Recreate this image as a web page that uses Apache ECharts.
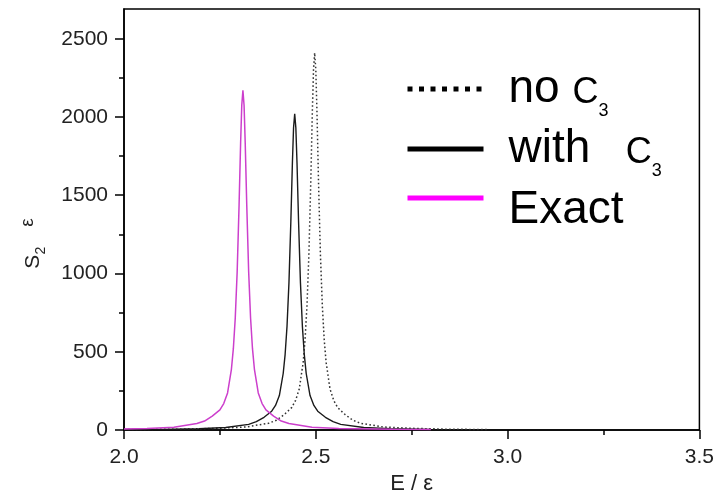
<!DOCTYPE html>
<html><head><meta charset="utf-8">
<script src="https://cdn.jsdelivr.net/npm/echarts@6/dist/echarts.min.js"></script>
<style>html,body{margin:0;padding:0;background:#fff}#c{width:717px;height:500px}</style>
</head><body><div id="c"></div>
<script>
// ---- data ----
const exactE = [2.00, 2.06, 2.13, 2.19, 2.21, 2.23, 2.25, 2.26, 2.27, 2.28, 2.285, 2.29, 2.295, 2.30, 2.304, 2.307, 2.31, 2.313, 2.316, 2.32, 2.325, 2.33, 2.335, 2.34, 2.35, 2.36, 2.37, 2.39, 2.41, 2.43, 2.49, 2.56, 2.70, 2.80];
const exactS = [6, 10, 18, 41, 57, 89, 129, 169, 237, 388, 518, 714, 1010, 1437, 1834, 2075, 2170, 2075, 1834, 1437, 1010, 714, 518, 388, 237, 169, 129, 89, 57, 41, 18, 10, 4, 3];

const withE = [2.00, 2.10, 2.195, 2.265, 2.325, 2.345, 2.365, 2.385, 2.395, 2.405, 2.415, 2.42, 2.425, 2.43, 2.435, 2.439, 2.442, 2.445, 2.448, 2.451, 2.455, 2.46, 2.465, 2.47, 2.475, 2.485, 2.495, 2.505, 2.525, 2.545, 2.565, 2.625, 2.695, 2.80];
const withS = [3, 4, 8, 16, 36, 53, 81, 120, 157, 220, 361, 482, 664, 940, 1337, 1707, 1931, 2020, 1931, 1707, 1337, 940, 664, 482, 361, 220, 157, 120, 81, 53, 36, 16, 8, 4];

const noE = [2.00, 2.147, 2.247, 2.317, 2.377, 2.397, 2.417, 2.437, 2.447, 2.457, 2.467, 2.472, 2.477, 2.482, 2.487, 2.491, 2.494, 2.497, 2.500, 2.503, 2.507, 2.512, 2.517, 2.522, 2.527, 2.537, 2.547, 2.557, 2.577, 2.597, 2.617, 2.677, 2.747, 2.847, 2.95];
const noS = [3, 5, 11, 19, 43, 62, 97, 143, 187, 263, 431, 575, 793, 1122, 1595, 2036, 2304, 2410, 2304, 2036, 1595, 1122, 793, 575, 431, 263, 187, 143, 97, 62, 43, 19, 11, 5, 3];

const seriesNames = ['no C3', 'with C3', 'Exact'];
const yTicks = [0, 500, 1000, 1500, 2000, 2500];
const yMinorTicks = [250, 750, 1250, 1750, 2250];
const xMin = 2.0, xMax = 3.5, xStep = 0.5;
const yMin = 0, yMax = 2690;

const pairs = (xs, ys) => xs.map((x, i) => [x, ys[i]]);
const FONT = 'Liberation Sans';

const legendRich = {
  g: { width: 20 },
  m: { fontSize: 46, lineHeight: 50, color: '#000', fontFamily: FONT },
  mx: { fontSize: 46, lineHeight: 50, color: '#000', fontFamily: FONT, padding: [24, 0, 0, 0] },
  c: { fontSize: 36, lineHeight: 43, color: '#000', fontFamily: FONT, verticalAlign: 'bottom', padding: [0, 0, 3, 0] },
  c2: { fontSize: 36, lineHeight: 43, color: '#000', fontFamily: FONT, verticalAlign: 'bottom', padding: [0, 0, 3, 10] },
  s: { fontSize: 18, lineHeight: 10, color: '#000', fontFamily: FONT, verticalAlign: 'top', padding: [38, 0, 0, 0] }
};
const legendText = {
  'no C3': '{g|}{m|no }{c|C}{s|3}',
  'with C3': '{g|}{m|with  }{c2|C}{s|3}',
  'Exact': '{g|}{mx|Exact}'
};
function mkLegend(name, top, ls) {
  return {
    show: true, orient: 'vertical', left: 405, top: top, padding: 0,
    itemWidth: 76, itemHeight: 14, selectedMode: false,
    lineStyle: ls,
    itemStyle: { color: 'rgba(0,0,0,0)', borderWidth: 0, borderColor: 'rgba(0,0,0,0)', opacity: 0 },
    data: [{ name: name, lineStyle: ls,
             itemStyle: { color: 'rgba(0,0,0,0)', borderWidth: 0, borderColor: 'rgba(0,0,0,0)', opacity: 0 } }],
    formatter: n => legendText[n],
    textStyle: { rich: legendRich, fontFamily: FONT, fontSize: 46, color: '#000' }
  };
}

const chart = echarts.init(document.getElementById('c'), null, { renderer: 'canvas' });
chart.setOption({
  animation: false,
  backgroundColor: '#fff',
  grid: { left: 124, right: 14, top: 9, bottom: 68, show: true, borderColor: '#000', borderWidth: 1.5, backgroundColor: 'transparent' },
  legend: [
    mkLegend(seriesNames[0], 64, { color: '#000', width: 5, type: [5, 6.5], dashOffset: 0, cap: 'butt' }),
    mkLegend(seriesNames[1], 124, { color: '#000', width: 5, type: 'solid' }),
    mkLegend(seriesNames[2], 163, { color: '#ff00ff', width: 5, type: 'solid' })
  ],
  xAxis: {
    type: 'value', min: xMin, max: xMax, interval: xStep,
    name: 'E / ε', nameLocation: 'middle', nameGap: 43,
    nameTextStyle: { fontFamily: FONT, fontSize: 22, color: '#222' },
    axisLine: { lineStyle: { color: '#000', width: 1.5 } },
    axisTick: { show: true, inside: false, length: 9, lineStyle: { color: '#000', width: 1.5 } },
    minorTick: { show: true, splitNumber: 2, length: 5, lineStyle: { color: '#000', width: 1.5 } },
    axisLabel: { margin: 17, fontFamily: FONT, fontSize: 21, color: '#222', formatter: v => v.toFixed(1) },
    splitLine: { show: false }, minorSplitLine: { show: false }
  },
  yAxis: [{
    type: 'value', min: yMin, max: yMax, position: 'left',
    name: '{s|S}{sub|2}{e|ε}', nameLocation: 'middle', nameGap: 76, nameRotate: 90,
    nameTextStyle: { color: '#222', rich: {
      s: { fontFamily: FONT, fontSize: 21, color: '#222', lineHeight: 24 },
      sub: { fontFamily: FONT, fontSize: 14, color: '#222', lineHeight: 6, verticalAlign: 'bottom', padding: [0, 20, 0, 0] },
      e: { fontFamily: FONT, fontSize: 19, color: '#222', lineHeight: 30, verticalAlign: 'top', padding: [0, 48, 0, 0] }
    } },
    axisLine: { show: true, lineStyle: { color: '#000', width: 1.5 } },
    axisTick: { show: true, inside: false, length: 9, customValues: yTicks, lineStyle: { color: '#000', width: 1.5 } },
    axisLabel: { margin: 16, fontFamily: FONT, fontSize: 21, color: '#222', customValues: yTicks, formatter: v => String(v) },
    splitLine: { show: false }
  }, {
    type: 'value', min: yMin, max: yMax, position: 'left', offset: 0,
    axisLine: { show: false },
    axisTick: { show: true, inside: false, length: 5, customValues: yMinorTicks, lineStyle: { color: '#000', width: 1.5 } },
    axisLabel: { show: false },
    splitLine: { show: false }
  }],
  series: [
    { name: seriesNames[0], type: 'line', data: pairs(noE, noS), showSymbol: false, symbol: 'none',
      lineStyle: { color: '#333', width: 1.5, type: [1.6, 2.4] }, itemStyle: { color: '#000' }, z: 3 },
    { name: seriesNames[1], type: 'line', data: pairs(withE, withS), showSymbol: false, symbol: 'none',
      lineStyle: { color: '#1a1a1a', width: 1.4 }, itemStyle: { color: '#000' }, z: 4 },
    { name: seriesNames[2], type: 'line', data: pairs(exactE, exactS), showSymbol: false, symbol: 'none',
      lineStyle: { color: '#cc3fcc', width: 1.5 }, itemStyle: { color: '#ff00ff' }, z: 5 }
  ]
});
</script></body></html>
